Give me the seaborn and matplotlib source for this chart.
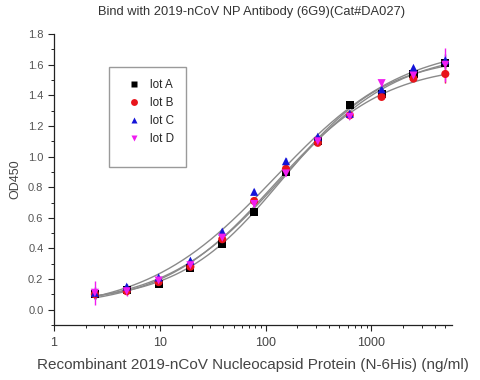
import matplotlib
matplotlib.use("Agg")
import matplotlib.pyplot as plt
import seaborn as sns
import numpy as np
import pandas as pd
from matplotlib.patches import Rectangle
from matplotlib.ticker import LogLocator, NullFormatter, MultipleLocator

# concentrations (ng/ml)
conc = [2.44, 4.88, 9.77, 19.5, 39.0, 78.1, 156, 312, 625, 1250, 2500, 5000]

lot_a = [0.10, 0.13, 0.17, 0.27, 0.43, 0.64, 0.90, 1.10, 1.34, 1.41, 1.54, 1.61]
lot_b = [0.10, 0.12, 0.18, 0.28, 0.46, 0.71, 0.92, 1.09, 1.27, 1.39, 1.51, 1.54]
lot_c = [0.11, 0.15, 0.21, 0.32, 0.51, 0.77, 0.97, 1.13, 1.28, 1.44, 1.58, 1.63]
lot_d = [0.11, 0.12, 0.19, 0.29, 0.47, 0.69, 0.89, 1.10, 1.26, 1.48, 1.53, 1.60]

err_a = [0.03, 0.01, 0.01, 0.01, 0.01, 0.01, 0.01, 0.01, 0.01, 0.01, 0.01, 0.03]
err_b = [0.03, 0.01, 0.01, 0.01, 0.01, 0.01, 0.01, 0.01, 0.01, 0.01, 0.01, 0.06]
err_c = [0.04, 0.02, 0.01, 0.01, 0.02, 0.02, 0.02, 0.01, 0.01, 0.01, 0.01, 0.04]
err_d = [0.08, 0.03, 0.02, 0.02, 0.02, 0.02, 0.02, 0.01, 0.01, 0.02, 0.02, 0.11]

lots = ["lot A", "lot B", "lot C", "lot D"]
colors = ["#000000", "#e8141b", "#1414d8", "#f01cf0"]
markers = ["s", "o", "^", "v"]


def logistic(p, lx):
    a, d, lc, h = p
    return d + (a - d) / (1 + 10 ** ((lx - lc) * h))


def fit_4pl(x, y):
    # small Levenberg-Marquardt fit of a 4PL curve on log10(x)
    lx = np.log10(x)
    y = np.asarray(y)
    p = np.array([0.08, 1.7, 2.2, 0.9])
    lam = 1e-2
    for _ in range(300):
        r = y - logistic(p, lx)
        J = np.zeros((len(lx), 4))
        for k in range(4):
            dp = np.zeros(4)
            dp[k] = 1e-6
            J[:, k] = (logistic(p + dp, lx) - logistic(p - dp, lx)) / 2e-6
        A = J.T @ J
        step = np.linalg.solve(A + lam * np.diag(np.diag(A)), J.T @ r)
        pn = p + step
        if np.sum((y - logistic(pn, lx)) ** 2) < np.sum(r ** 2):
            p = pn
            lam *= 0.5
        else:
            lam *= 5
    return p


rows = []
for name, vals, errs in zip(lots, [lot_a, lot_b, lot_c, lot_d], [err_a, err_b, err_c, err_d]):
    for c, v, e in zip(conc, vals, errs):
        rows.append({"conc": c, "od": v, "err": e, "lot": name})
df = pd.DataFrame(rows)

curve_rows = []
xs = np.logspace(np.log10(conc[0]), np.log10(conc[-1]), 200)
for name, vals in zip(lots, [lot_a, lot_b, lot_c, lot_d]):
    p = fit_4pl(np.array(conc), vals)
    for xv, yv in zip(xs, logistic(p, np.log10(xs))):
        curve_rows.append({"conc": xv, "od": yv, "lot": name})
df_fit = pd.DataFrame(curve_rows)

sns.set_style("ticks")
plt.rcParams["font.family"] = ["Liberation Sans", "DejaVu Sans"]

fig = plt.figure(figsize=(4.81, 3.80), dpi=100)
ax = fig.add_axes([0.112, 0.145, 0.828, 0.765])

sns.lineplot(data=df_fit, x="conc", y="od", units="lot", estimator=None,
             color="#8a8a8a", lw=1.0, ax=ax, legend=False)

for name, col in zip(lots, colors):
    sub = df[df["lot"] == name]
    ax.errorbar(sub["conc"], sub["od"], yerr=sub["err"], fmt="none",
                ecolor=col, elinewidth=1.0, capsize=0, zorder=3)

sns.scatterplot(data=df, x="conc", y="od", hue="lot", style="lot",
                palette=colors, markers=markers, s=34, edgecolor="none",
                ax=ax, zorder=4)

ax.set_xscale("log")
ax.set_xlim(1, 5800)
ax.set_ylim(-0.1, 1.8)
ax.yaxis.set_major_locator(MultipleLocator(0.2))
ax.yaxis.set_minor_locator(MultipleLocator(0.1))
ax.yaxis.set_major_formatter(matplotlib.ticker.FormatStrFormatter("%.1f"))
ax.xaxis.set_major_locator(LogLocator(base=10))
ax.xaxis.set_major_formatter(matplotlib.ticker.FuncFormatter(lambda v, _: f"{v:g}"))
ax.xaxis.set_minor_locator(LogLocator(base=10, subs=np.arange(2, 10)))
ax.xaxis.set_minor_formatter(NullFormatter())
ax.tick_params(axis="y", which="major", labelsize=8, length=4, width=0.8,
               colors="#222222", labelcolor="#555555")
ax.tick_params(axis="x", which="major", labelsize=9, length=4, width=0.8,
               colors="#222222", labelcolor="#444444", pad=5)
ax.tick_params(axis="both", which="minor", length=2.5, width=0.7, colors="#222222")
sns.despine(ax=ax)
for s in ["left", "bottom"]:
    ax.spines[s].set_linewidth(0.9)
    ax.spines[s].set_color("#222222")

ax.set_xlabel("Recombinant 2019-nCoV Nucleocapsid Protein (N-6His) (ng/ml)",
              fontsize=11, color="#444444", labelpad=6)
ax.set_ylabel("OD450", fontsize=9, color="#444444", labelpad=5)
fig.suptitle("Bind with 2019-nCoV NP Antibody (6G9)(Cat#DA027)",
             fontsize=9.3, color="#333333", x=0.522, y=0.985)

# legend box drawn as a plain rectangle, entries without frame
ax.add_patch(Rectangle((0.1385, 0.5436), 0.194, 0.3428, transform=ax.transAxes,
                       facecolor="white", edgecolor="#9a9a9a", lw=1.0, zorder=5))
leg = ax.legend(loc="upper left", bbox_to_anchor=(0.185, 0.845), fontsize=8.4,
                frameon=False, borderpad=0, borderaxespad=0,
                handletextpad=0.8, labelspacing=0.5,
                handlelength=1.1, markerscale=0.85)
leg.set_zorder(6)

plt.savefig("out.png", dpi=100)
plt.close()
